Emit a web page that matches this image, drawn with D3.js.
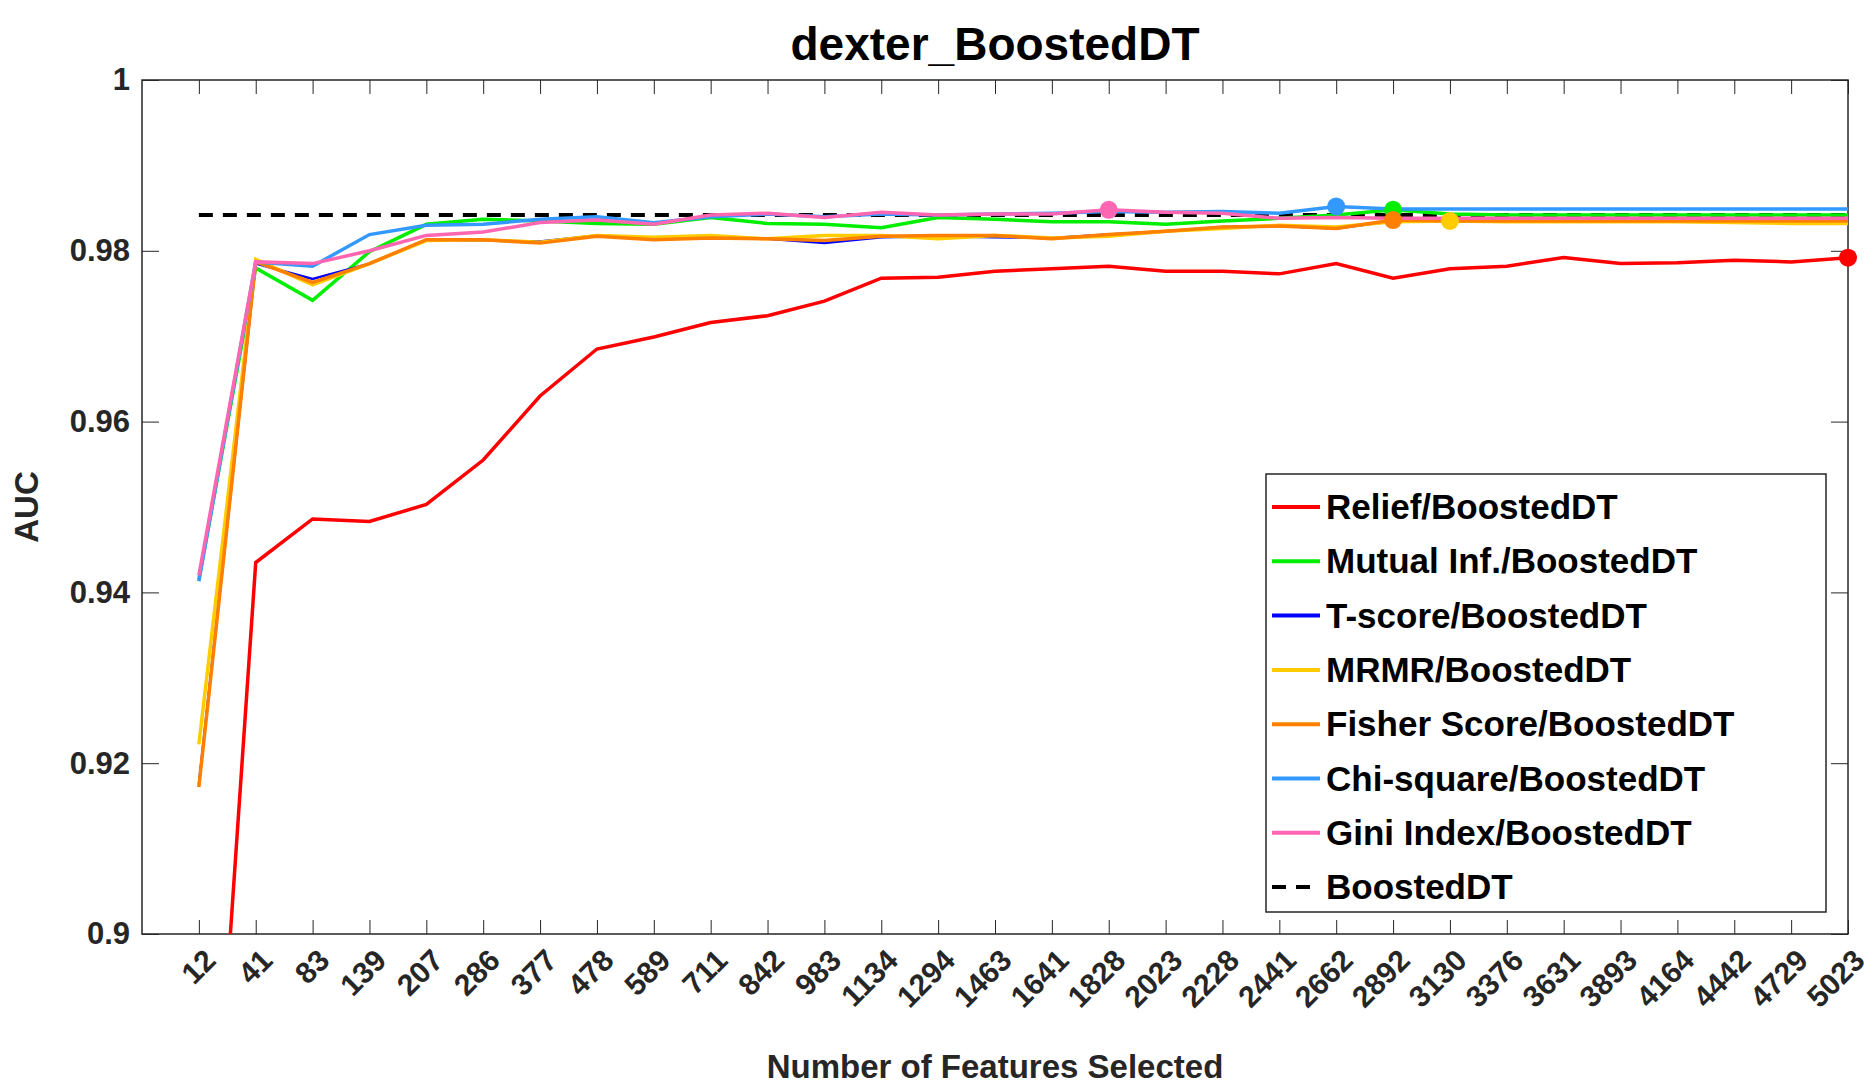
<!DOCTYPE html>
<meta charset="utf-8">
<script src="https://d3js.org/d3.v7.min.js"></script>
<style>
  body { margin: 0; background: #fff; }
  text { font-family: "Liberation Sans", Arial, sans-serif; font-weight: bold; }
</style>
<svg id="chart" width="1875" height="1086"></svg>
<script>
// feature counts on the x axis
const features = [12, 41, 83, 139, 207, 286, 377, 478, 589, 711, 842, 983, 1134, 1294, 1463,
  1641, 1828, 2023, 2228, 2441, 2662, 2892, 3130, 3376, 3631, 3893, 4164, 4442, 4729, 5023];

const relief = [0.846, 0.9435, 0.9486, 0.9483, 0.9503, 0.9555, 0.9630, 0.9685, 0.9699, 0.9716,
  0.9724, 0.9741, 0.9768, 0.9769, 0.9776, 0.9779, 0.9782, 0.9776, 0.9776, 0.9773,
  0.9785, 0.9768, 0.9779, 0.9782, 0.9792, 0.9785, 0.9786, 0.9789, 0.9787, 0.9792];
const mutual = [0.9415, 0.9780, 0.9742, 0.9799, 0.9831, 0.9837, 0.9835, 0.9832, 0.9831, 0.9839,
  0.9832, 0.9831, 0.9827, 0.9839, 0.9837, 0.9834, 0.9834, 0.9831, 0.9835, 0.9838,
  0.9842, 0.9848, 0.9843, 0.9842, 0.9842, 0.9842, 0.9842, 0.9842, 0.9842, 0.9842];
const tscore = [0.9175, 0.9785, 0.9767, 0.9785, 0.9813, 0.9812, 0.9811, 0.9818, 0.9815, 0.9815,
  0.9814, 0.9809, 0.9816, 0.9817, 0.9816, 0.9815, 0.9819, 0.9823, 0.9828, 0.9829,
  0.9826, 0.9835, 0.9835, 0.9835, 0.9835, 0.9835, 0.9835, 0.9835, 0.9835, 0.9835];
const mrmr = [0.9222, 0.9790, 0.9760, 0.9785, 0.9812, 0.9813, 0.9810, 0.9818, 0.9816, 0.9818,
  0.9814, 0.9818, 0.9818, 0.9814, 0.9818, 0.9815, 0.9817, 0.9823, 0.9826, 0.9830,
  0.9828, 0.9834, 0.9835, 0.9834, 0.9834, 0.9834, 0.9834, 0.9833, 0.9832, 0.9832];
const fisher = [0.9172, 0.9787, 0.9763, 0.9785, 0.9813, 0.9813, 0.9809, 0.9817, 0.9813, 0.9815,
  0.9814, 0.9812, 0.9817, 0.9818, 0.9818, 0.9814, 0.9819, 0.9823, 0.9828, 0.9829,
  0.9826, 0.9836, 0.9835, 0.9835, 0.9835, 0.9835, 0.9835, 0.9835, 0.9835, 0.9835];
const chisq = [0.9413, 0.9787, 0.9782, 0.9819, 0.9830, 0.9831, 0.9837, 0.9840, 0.9833, 0.9840,
  0.9843, 0.9840, 0.9843, 0.9842, 0.9843, 0.9844, 0.9846, 0.9845, 0.9846, 0.9844,
  0.9852, 0.9849, 0.9849, 0.9849, 0.9849, 0.9849, 0.9849, 0.9849, 0.9849, 0.9849];
const gini = [0.9420, 0.9787, 0.9785, 0.9800, 0.9818, 0.9822, 0.9833, 0.9836, 0.9831, 0.9842,
  0.9844, 0.9839, 0.9845, 0.9842, 0.9843, 0.9843, 0.9848, 0.9845, 0.9844, 0.9838,
  0.9839, 0.9838, 0.9838, 0.9838, 0.9838, 0.9838, 0.9838, 0.9838, 0.9838, 0.9838];
const baseline = 0.9842;

const yTicks = [0.9, 0.92, 0.94, 0.96, 0.98, 1];

const series = [
  { name: "Relief/BoostedDT", values: relief, color: "#ff0000", w: 3.5 },
  { name: "Mutual Inf./BoostedDT", values: mutual, color: "#00ee00", w: 3.5 },
  { name: "T-score/BoostedDT", values: tscore, color: "#0000ff", w: 2.5 },
  { name: "MRMR/BoostedDT", values: mrmr, color: "#ffcc00", w: 3.5 },
  { name: "Fisher Score/BoostedDT", values: fisher, color: "#ff8000", w: 3.5 },
  { name: "Chi-square/BoostedDT", values: chisq, color: "#3399ff", w: 3.5 },
  { name: "Gini Index/BoostedDT", values: gini, color: "#ff66b2", w: 3.5 }
];

const svg = d3.select("#chart");
const m = { left: 142, right: 27, top: 80, bottom: 152 };
const W = 1875, H = 1086;

const x = d3.scaleLinear().domain([-1, features.length - 1]).range([m.left, W - m.right]);
const y = d3.scaleLinear().domain([0.9, 1]).range([H - m.bottom, m.top]);

svg.append("clipPath").attr("id", "clip").append("rect")
  .attr("x", m.left).attr("y", m.top - 10)
  .attr("width", W - m.left - m.right + 10).attr("height", H - m.top - m.bottom + 10);

// box
svg.append("rect").attr("x", m.left).attr("y", m.top)
  .attr("width", W - m.left - m.right).attr("height", H - m.top - m.bottom)
  .attr("fill", "none").attr("stroke", "#262626").attr("stroke-width", 1.5);

// x axis ticks
const xb = d3.axisBottom(x).tickValues(d3.range(features.length)).tickSize(-14)
  .tickFormat(i => features[i]);
const gx = svg.append("g").attr("transform", `translate(0,${H - m.bottom})`).call(xb);
gx.select(".domain").remove();
gx.selectAll("line").attr("stroke", "#262626");
gx.selectAll("text").attr("font-size", 30).attr("fill", "#262626")
  .attr("text-anchor", "end").attr("dy", 0)
  .attr("transform", "translate(16,26) rotate(-45)");
const xt = d3.axisTop(x).tickValues(d3.range(features.length)).tickSize(-14).tickFormat("");
svg.append("g").attr("transform", `translate(0,${m.top})`).call(xt)
  .call(g => g.select(".domain").remove())
  .selectAll("line").attr("stroke", "#262626");

// y axis
const gy = svg.append("g").attr("transform", `translate(${m.left},0)`)
  .call(d3.axisLeft(y).tickValues(yTicks).tickSize(-17).tickPadding(12)
    .tickFormat(d => d === 1 ? "1" : String(+d.toFixed(2))));
gy.select(".domain").remove();
gy.selectAll("line").attr("stroke", "#262626");
gy.selectAll("text").attr("font-size", 31).attr("fill", "#262626");
svg.append("g").attr("transform", `translate(${W - m.right},0)`)
  .call(d3.axisRight(y).tickValues(yTicks).tickSize(-17).tickFormat(""))
  .call(g => g.select(".domain").remove())
  .selectAll("line").attr("stroke", "#262626");

// lines
const plot = svg.append("g").attr("clip-path", "url(#clip)");
const line = d3.line().x((d, i) => x(i)).y(d => y(d));

plot.append("path").datum(features.map(() => baseline))
  .attr("d", line).attr("fill", "none").attr("stroke", "#000")
  .attr("stroke-width", 4).attr("stroke-dasharray", "14,10");

series.forEach(s => {
  plot.append("path").datum(s.values).attr("d", line)
    .attr("fill", "none").attr("stroke", s.color).attr("stroke-width", s.w);
});

// markers at max
series.forEach(s => {
  if (s.name.startsWith("T-score")) return;
  const mx = d3.max(s.values);
  const i = s.values[s.values.length - 1] === mx ? s.values.length - 1 : s.values.indexOf(mx);
  svg.append("circle").attr("cx", x(i)).attr("cy", y(mx)).attr("r", 9).attr("fill", s.color);
});

// title and labels
svg.append("text").attr("x", (m.left + W - m.right) / 2).attr("y", 60)
  .attr("text-anchor", "middle").attr("font-size", 46).text("dexter_BoostedDT");
svg.append("text").attr("x", (m.left + W - m.right) / 2).attr("y", 1078)
  .attr("text-anchor", "middle").attr("font-size", 33).attr("fill", "#262626")
  .text("Number of Features Selected");
svg.append("text").attr("transform", `translate(38,${(m.top + H - m.bottom) / 2}) rotate(-90)`)
  .attr("text-anchor", "middle").attr("font-size", 33).attr("fill", "#262626").text("AUC");

// legend
const lg = svg.append("g").attr("transform", "translate(1266,474)");
lg.append("rect").attr("width", 560).attr("height", 438)
  .attr("fill", "#fff").attr("stroke", "#262626").attr("stroke-width", 1.5);
const items = series.concat([{ name: "BoostedDT", color: "#000", dash: true }]);
items.forEach((s, i) => {
  const yy = 33 + i * 54.3;
  lg.append("line").attr("x1", 6).attr("x2", 54).attr("y1", yy).attr("y2", yy)
    .attr("stroke", s.color).attr("stroke-width", 4)
    .attr("stroke-dasharray", s.dash ? "14,10" : null);
  lg.append("text").attr("x", 60).attr("y", yy + 12).attr("font-size", 35).text(s.name);
});
</script>
